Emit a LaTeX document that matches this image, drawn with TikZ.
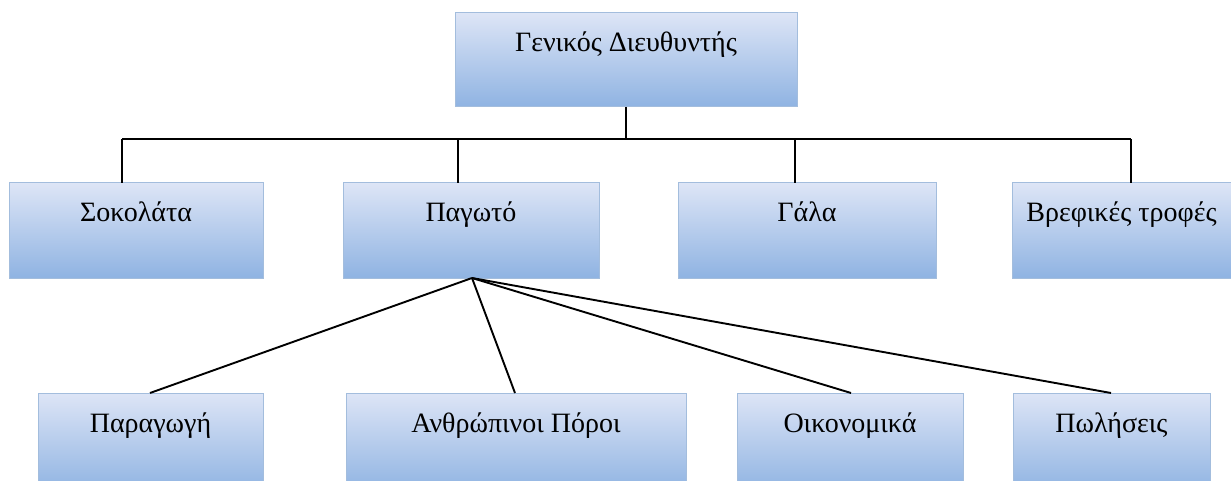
\documentclass[tikz,border=0pt]{standalone}
\usepackage{fontspec}
\setmainfont{Liberation Serif}
\definecolor{boxtop}{HTML}{DDE5F6}
\definecolor{boxbot}{HTML}{8FB3E2}
\definecolor{boxline}{HTML}{A3BDDD}
\begin{document}
\begin{tikzpicture}[x=1pt,y=-1pt,
  orgbox/.style={draw=boxline, line width=1pt, top color=boxtop, bottom color=boxbot,
    anchor=north west, inner sep=0pt, outer sep=0pt, font=\fontsize{28}{32}\selectfont,
    text height=39pt, text depth=#1, minimum height=0pt},
  orgbox/.default=56pt,
  wire/.style={draw=black, line width=1.9pt}]
\clip (0,0) rectangle (1231,481);
\fill[white] (0,0) rectangle (1231,481);
% top
\node[orgbox=55pt, minimum width=342pt] (gd) at (455,13) {Γενικός Διευθυντής};
% second row
\node[orgbox, minimum width=254pt] (sok) at (9,183) {Σοκολάτα};
\node[orgbox, minimum width=256pt] (pag) at (343,183) {Παγωτό};
\node[orgbox, minimum width=258pt] (gal) at (678,183) {Γάλα};
\node[orgbox, minimum width=219pt] (vre) at (1012,183) {Βρεφικές τροφές};
% third row
\node[orgbox=60pt, minimum width=225pt] (par) at (38,393) {Παραγωγή};
\node[orgbox=60pt, minimum width=340pt] (anth) at (346,393) {Ανθρώπινοι Πόροι};
\node[orgbox=60pt, minimum width=226pt] (oik) at (737,393) {Οικονομικά};
\node[orgbox=60pt, minimum width=197pt] (pol) at (1013,393) {Πωλήσεις};
% bus
\coordinate (bus) at (626,139);
\coordinate (d1) at (122,139);
\coordinate (d2) at (458,139);
\coordinate (d3) at (795,139);
\coordinate (d4) at (1131,139);
\draw[wire] (gd.south -| bus) -- (bus);
\draw[wire] (d1) -- (d4);
\draw[wire] (d1) -- (d1 |- sok.north);
\draw[wire] (d2) -- (d2 |- pag.north);
\draw[wire] (d3) -- (d3 |- gal.north);
\draw[wire] (d4) -- (d4 |- vre.north);
% fan
\coordinate (hub) at ([xshift=1pt]pag.south);
\coordinate (e1) at ([xshift=112pt]par.north west);
\coordinate (e2) at ([xshift=169pt]anth.north west);
\coordinate (e3) at ([xshift=114pt]oik.north west);
\coordinate (e4) at ([xshift=98pt]pol.north west);
\draw[wire] (hub) -- (e1);
\draw[wire] (hub) -- (e2);
\draw[wire] (hub) -- (e3);
\draw[wire] (hub) -- (e4);
\end{tikzpicture}
\end{document}
